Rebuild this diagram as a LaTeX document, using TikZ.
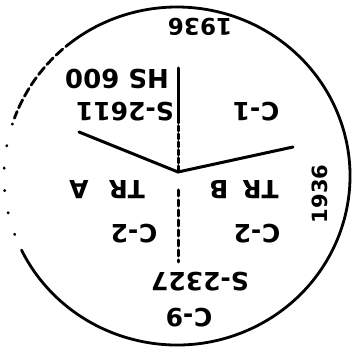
\documentclass[tikz,border=0pt]{standalone}
\usepackage{fontspec}
\setmainfont{DejaVu Sans}
\usetikzlibrary{positioning}
\newcommand\stampsize[1]{\fontsize{#1}{#1}\selectfont\bfseries}

\begin{document}
\begin{tikzpicture}[x=1pt,y=1pt,
    stamp/.style={inner sep=0pt,font=\stampsize{25}},
    upside/.style={stamp,rotate=180},
    ring/.style={line width=2.8pt,line cap=round},
    split/.style={line width=3pt,line cap=round}]
        \useasboundingbox (0,0) rectangle (359,348);
        \coordinate (c) at (177,172);
        % the ring: solid, then dashed, then only a few dots on the left
        \draw[ring] ([shift={(-154:173 and 169)}]c) arc[start angle=-154,end angle=127,x radius=173,y radius=169];
        \draw[ring,dash pattern=on 9pt off 4pt] ([shift={(127:173 and 169)}]c) arc[start angle=127,end angle=160,x radius=173,y radius=169];
        \draw[ring,dash pattern=on 0.5pt off 22pt] ([shift={(162:173 and 169)}]c) arc[start angle=162,end angle=204,x radius=173,y radius=169];
        % dividing lines
        \coordinate (j) at (178,176);
        \coordinate (top) at (178,280);
        \coordinate (mid) at (178,230);
        \coordinate (low) at (178,158);
        \coordinate (bot) at (178,86);
        \coordinate (lft) at (79,216);
        \coordinate (rgt) at (293,201);
        \draw[split] (top) -- (mid);
        \draw[split,dash pattern=on 5pt off 3pt] (mid) -- (j);
        \draw[split,dash pattern=on 6pt off 4pt] (low) -- (bot);
        \draw[split] (lft) -- (j) -- (rgt);
        % texts
        \node[upside,font=\stampsize{23}] (yeartop) at (200,321) {1936};
        \node[upside,font=\stampsize{26}] (hs) at (117,269) {HS 600};
        \node[upside] (s2611) at (125,236) {S-2611};
        \node[upside] (c1) at (256,236) {C-1};
        \node[upside] (tra) at (107,158) {TR\hspace{20pt}A};
        \node[upside] (trb) at (244,158) {TR\hspace{14pt}B};
        \node[upside] (c2l) at (134,114) {C-2};
        \node[upside] (c2r) at (257,114) {C-2};
        \node[upside] (s2327) at (200,66) {S-2327};
        \node[upside] (c9) at (189,30) {C-9};
        \node[stamp,rotate=90,font=\stampsize{21}] (yearside) at (320,154) {1936};
      \end{tikzpicture}
\end{document}
